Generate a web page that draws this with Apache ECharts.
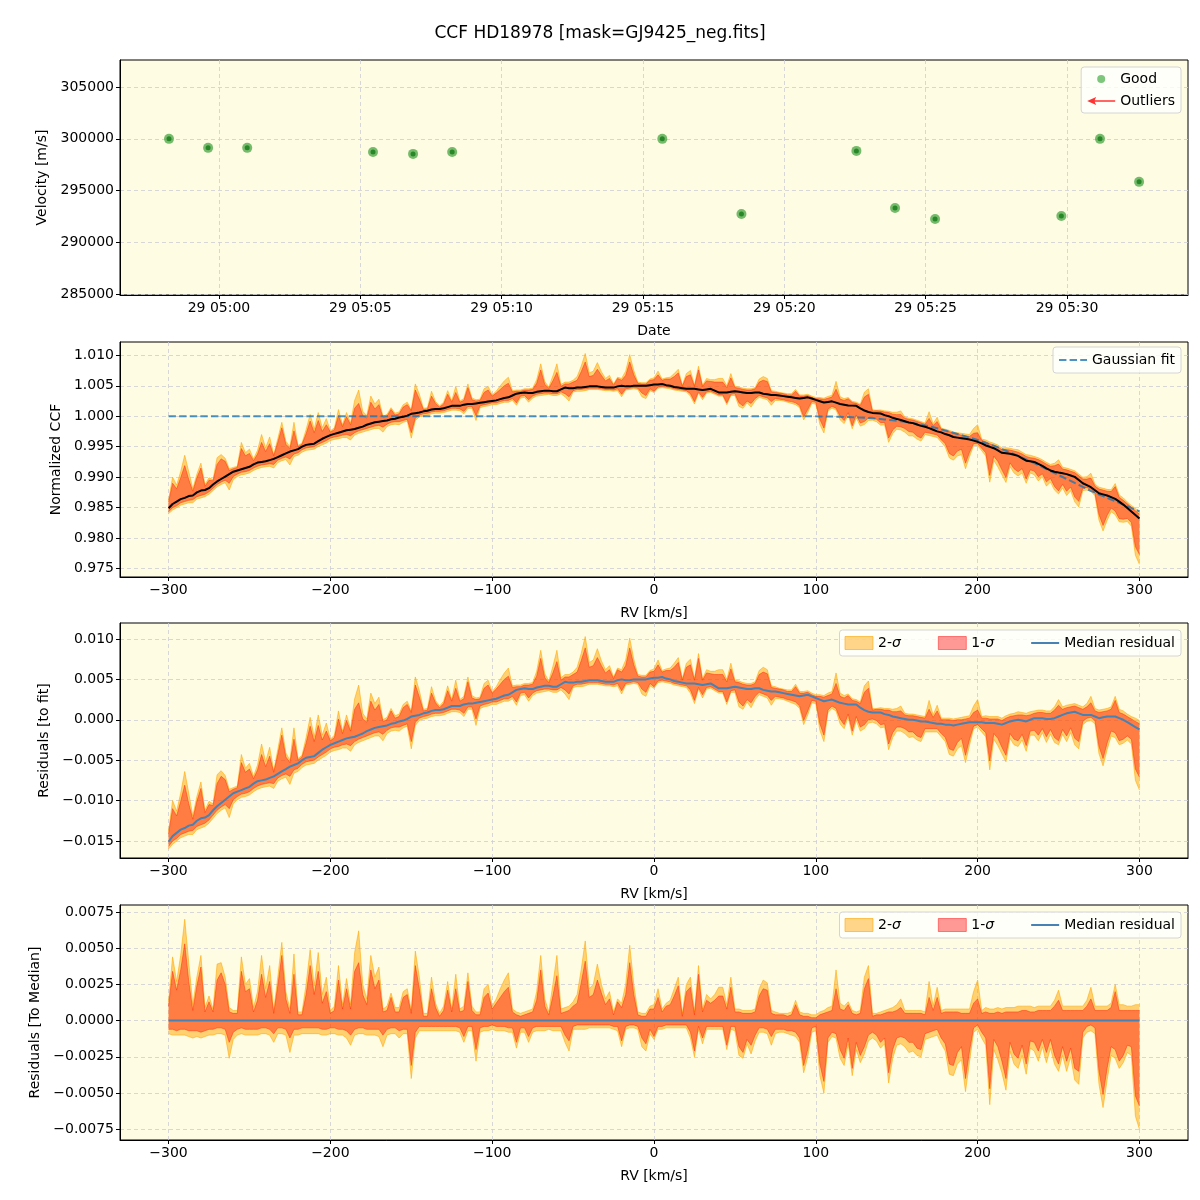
<!DOCTYPE html>
<html>
<head>
<meta charset="utf-8">
<script src="https://cdn.jsdelivr.net/npm/echarts@6/dist/echarts.min.js"></script>
<style>
html, body { margin: 0; background: #fff; }
#chart { width: 1200px; height: 1200px; }
</style>
</head>
<body>
<div id="chart"></div>
<script>
// top panel: observation times (day 29, UTC) and velocities
const obsTimes = ['04:58:14', '04:59:37', '05:01:00', '05:05:27', '05:06:52', '05:08:15', '05:15:41',
  '05:18:29', '05:22:33', '05:23:55', '05:25:20', '05:29:48', '05:31:10', '05:32:33']
const obsVel = [300000, 299130, 299130, 298740, 298550, 298740, 300000,
  292750, 298840, 293330, 292270, 292560, 300000, 295850]

// tick positions
const timeTicks = [0, 5, 10, 15, 20, 25, 30]  // minutes after 05:00
const velTicks = [285000, 290000, 295000, 300000, 305000]
const rvTicks = [-300, -200, -100, 0, 100, 200, 300]
const ccfTicks = [0.975, 0.98, 0.985, 0.99, 0.995, 1.0, 1.005, 1.01]
const resTicks = [-0.015, -0.01, -0.005, 0, 0.005, 0.01]
const medTicks = [-0.0075, -0.005, -0.0025, 0, 0.0025, 0.005, 0.0075]

// RV grid [km/s], 10 values per row
const rv = [-300, -297.5, -295, -292.5, -290, -287.5, -285, -282.5, -280, -277.5,
  -275, -272.5, -270, -267.5, -265, -262.5, -260, -257.5, -255, -252.5,
  -250, -247.5, -245, -242.5, -240, -237.5, -235, -232.5, -230, -227.5,
  -225, -222.5, -220, -217.5, -215, -212.5, -210, -207.5, -205, -202.5,
  -200, -197.5, -195, -192.5, -190, -187.5, -185, -182.5, -180, -177.5,
  -175, -172.5, -170, -167.5, -165, -162.5, -160, -157.5, -155, -152.5,
  -150, -147.5, -145, -142.5, -140, -137.5, -135, -132.5, -130, -127.5,
  -125, -122.5, -120, -117.5, -115, -112.5, -110, -107.5, -105, -102.5,
  -100, -97.5, -95, -92.5, -90, -87.5, -85, -82.5, -80, -77.5,
  -75, -72.5, -70, -67.5, -65, -62.5, -60, -57.5, -55, -52.5,
  -50, -47.5, -45, -42.5, -40, -37.5, -35, -32.5, -30, -27.5,
  -25, -22.5, -20, -17.5, -15, -12.5, -10, -7.5, -5, -2.5,
  0, 2.5, 5, 7.5, 10, 12.5, 15, 17.5, 20, 22.5,
  25, 27.5, 30, 32.5, 35, 37.5, 40, 42.5, 45, 47.5,
  50, 52.5, 55, 57.5, 60, 62.5, 65, 67.5, 70, 72.5,
  75, 77.5, 80, 82.5, 85, 87.5, 90, 92.5, 95, 97.5,
  100, 102.5, 105, 107.5, 110, 112.5, 115, 117.5, 120, 122.5,
  125, 127.5, 130, 132.5, 135, 137.5, 140, 142.5, 145, 147.5,
  150, 152.5, 155, 157.5, 160, 162.5, 165, 167.5, 170, 172.5,
  175, 177.5, 180, 182.5, 185, 187.5, 190, 192.5, 195, 197.5,
  200, 202.5, 205, 207.5, 210, 212.5, 215, 217.5, 220, 222.5,
  225, 227.5, 230, 232.5, 235, 237.5, 240, 242.5, 245, 247.5,
  250, 252.5, 255, 257.5, 260, 262.5, 265, 267.5, 270, 272.5,
  275, 277.5, 280, 282.5, 285, 287.5, 290, 292.5, 295, 297.5,
  300]

// depth of the gaussian fit below 1, units of 1e-4
const fitDepth = [0, 0, 0, 0, 0, 0, 0, 0, 0, 0,
  0, 0, 0, 0, 0, 0, 0, 0, 0, 0,
  0, 0, 0, 0, 0, 0, 0, 0, 0, 0,
  0, 0, 0, 0, 0, 0, 0, 0, 0, 0,
  0, 0, 0, 0, 0, 0, 0, 0, 0, 0,
  0, 0, 0, 0, 0, 0, 0, 0, 0, 0,
  0, 0, 0, 0, 0, 0, 0, 0, 0, 0,
  0, 0, 0, 0, 0, 0, 0, 0, 0, 0,
  0, 0, 0, 0, 0, 0, 0, 0, 0, 0,
  0, 0, 0, 0, 0, 0, 0, 0, 0, 0,
  0, 0, 0, 0, 0, 0, 0, 0, 0, 0,
  0, 0, 0, 0, 0, 0, 0, 0, 0, 0,
  0, 0, 0, 0, 0, 0, 0, 0, 0, 0,
  0, 0, 0, 0, 0, 0, 0, 0, 0, 0,
  0, 0, 0, 0, 0, 0, 0, 0, 0, 0,
  0, 0, 0, 0, 0, 0, 0, 0, 0, 0,
  0.2, 0.3, 0.4, 0.5, 0.6, 0.75, 0.9, 1.1, 1.3, 1.6,
  1.9, 2.2, 2.6, 3.0, 3.5, 4.0, 4.6, 5.2, 5.9, 6.6,
  7.4, 8.3, 9.2, 10.2, 11.3, 12.5, 13.8, 15.2, 16.6, 18.2,
  19.8, 21.5, 23.3, 25.2, 27.1, 29.1, 31.1, 33.1, 35.1, 37,
  39, 41.5, 44, 46.2, 48.5, 51.2, 54, 56.7, 59.5, 62.2,
  65, 68, 71, 74, 77, 80.2, 83.5, 86.7, 90, 93.2,
  96.5, 99.7, 103, 106.2, 109.5, 112.7, 116, 119.2, 122.5, 125.5,
  128.5, 131.2, 134, 136.7, 139.5, 142.2, 145, 147.7, 150.5, 153.2,
  156]

// median residual to the fit, units of 1e-4
const medRes = [-151, -144, -140, -136, -134, -131, -130, -125, -122, -121,
  -118, -112, -107, -103, -99, -95, -91, -89, -87, -85,
  -83, -79, -76, -75, -74, -72, -70, -67, -64, -61,
  -58, -56, -54, -50, -47, -46, -45, -41, -37, -34,
  -31, -29, -27, -25, -23, -22, -21, -19, -17, -14,
  -12, -10, -9, -8, -7, -5, -4, -2, -1, 1,
  4, 5, 6, 8, 9, 11, 12, 12, 13, 15,
  17, 17, 17, 19, 20, 20, 21, 22, 23, 24,
  25, 26, 28, 30, 31, 34, 37, 38, 39, 38,
  38, 40, 41, 42, 42, 41, 41, 44, 47, 46,
  46, 47, 47, 48, 49, 49, 49, 48, 47, 47,
  47, 49, 50, 49, 49, 50, 50, 50, 50, 51,
  52, 52, 53, 51, 50, 48, 47, 46, 45, 45,
  45, 44, 43, 44, 45, 42, 39, 39, 39, 40,
  41, 40, 39, 38, 38, 39, 39, 37, 36, 35,
  35, 34, 33, 32, 31, 30, 29, 30, 31, 29,
  27, 25, 23, 24, 25, 23, 21, 20, 19, 19,
  19, 15, 12, 10, 9, 9, 9, 7, 6, 4,
  3, 2, 1, 0, 0, -1, -2, -2, -3, -4,
  -5, -5, -6, -6, -7, -6, -5, -4, -3, -3,
  -3, -3, -4, -4, -4, -5, -6, -4, -2, -1,
  0, -1, -2, 0, 2, 2, 2, 1, 1, 2,
  4, 6, 8, 9, 10, 8, 6, 6, 6, 4,
  2, 3, 4, 4, 4, 2, 0, -3, -6, -9,
  -12]

// percentile spread around the median, units of 1e-4
const up2 = [13, 44, 27, 45, 70, 40, 11, 30, 45, 9,
  17, 8, 39, 40, 30, 9, 7, 7, 44, 25,
  29, 9, 20, 45, 22, 38, 7, 30, 54, 20,
  8, 46, 6, 6, 25, 49, 24, 47, 18, 30,
  7, 10, 38, 11, 29, 11, 47, 62, 25, 15,
  45, 30, 37, 8, 10, 19, 9, 9, 20, 22,
  7, 48, 30, 5, 5, 30, 12, 5, 10, 27,
  8, 32, 8, 10, 33, 10, 6, 6, 22, 25,
  10, 15, 22, 28, 33, 8, 6, 5, 6, 7,
  8, 20, 45, 15, 6, 25, 45, 8, 9, 10,
  13, 18, 35, 55, 22, 25, 39, 25, 15, 20,
  6, 15, 12, 25, 52, 25, 6, 5, 5, 10,
  11, 22, 8, 12, 14, 22, 30, 5, 25, 30,
  6, 38, 8, 18, 15, 18, 23, 23, 11, 30,
  8, 8, 7, 7, 7, 8, 22, 28, 26, 7,
  6, 5, 5, 5, 6, 14, 6, 5, 5, 4,
  4, 6, 7, 9, 10, 35, 12, 10, 13, 7,
  6, 7, 30, 38, 5, 5, 6, 7, 8, 9,
  11, 15, 7, 7, 7, 7, 7, 6, 27, 10,
  23, 7, 8, 8, 8, 8, 8, 8, 8, 20,
  28, 7, 9, 8, 8, 9, 8, 9, 9, 9,
  10, 10, 10, 10, 9, 10, 10, 10, 10, 14,
  21, 10, 10, 10, 10, 10, 10, 14, 23, 10,
  10, 10, 10, 12, 25, 11, 11, 10, 10, 11,
  11]
const up1 = [10, 34, 21, 35, 53, 27, 7, 24, 37, 6,
  13, 6, 28, 33, 25, 6, 5, 5, 34, 20,
  22, 6, 14, 32, 16, 27, 5, 24, 45, 15,
  5, 32, 4, 4, 18, 38, 18, 34, 12, 20,
  5, 7, 28, 8, 22, 8, 34, 40, 18, 11,
  35, 22, 28, 6, 7, 16, 6, 6, 16, 18,
  5, 38, 22, 3, 3, 22, 9, 3, 7, 21,
  6, 22, 6, 7, 27, 7, 4, 4, 16, 19,
  8, 12, 16, 20, 23, 6, 4, 3, 4, 5,
  6, 14, 35, 10, 4, 17, 31, 5, 6, 7,
  10, 12, 26, 41, 16, 18, 28, 19, 11, 15,
  4, 13, 9, 18, 40, 18, 4, 3, 3, 8,
  8, 16, 6, 10, 11, 17, 24, 3, 20, 23,
  4, 32, 6, 14, 12, 14, 17, 17, 8, 23,
  6, 6, 5, 5, 5, 6, 17, 22, 21, 5,
  4, 4, 4, 3, 4, 11, 4, 3, 3, 2,
  2, 4, 5, 6, 7, 22, 8, 7, 11, 5,
  4, 5, 22, 29, 3, 4, 4, 5, 6, 6,
  7, 9, 5, 5, 5, 5, 5, 4, 16, 7,
  16, 5, 6, 6, 6, 6, 5, 5, 5, 12,
  15, 5, 6, 5, 5, 6, 5, 6, 6, 6,
  6, 7, 7, 6, 6, 7, 7, 7, 7, 10,
  14, 7, 7, 7, 7, 7, 7, 10, 15, 7,
  7, 7, 7, 9, 20, 7, 7, 7, 7, 7,
  7]
const lo1 = [-6, -6, -7, -6, -6, -7, -7, -7, -8, -7,
  -6, -6, -5, -5, -6, -15, -8, -6, -5, -6,
  -6, -6, -6, -5, -5, -6, -9, -5, -5, -6,
  -12, -6, -6, -5, -5, -5, -5, -5, -6, -6,
  -5, -5, -6, -6, -7, -10, -6, -5, -5, -6,
  -6, -6, -6, -10, -6, -5, -5, -7, -6, -6,
  -31, -8, -4, -4, -4, -4, -4, -4, -4, -4,
  -4, -4, -5, -11, -4, -4, -20, -5, -4, -4,
  -3, -4, -4, -4, -5, -5, -15, -5, -5, -11,
  -5, -4, -4, -4, -4, -4, -4, -4, -10, -14,
  -4, -3, -3, -3, -3, -3, -3, -3, -3, -3,
  -4, -4, -14, -4, -3, -3, -4, -12, -16, -6,
  -11, -4, -4, -3, -3, -3, -3, -3, -3, -8,
  -21, -4, -12, -4, -4, -4, -4, -4, -17, -4,
  -4, -18, -22, -13, -17, -10, -5, -5, -6, -11,
  -6, -6, -6, -7, -7, -8, -12, -31, -20, -5,
  -4, -30, -42, -12, -8, -9, -20, -26, -12, -33,
  -15, -24, -18, -10, -8, -10, -15, -12, -36, -20,
  -12, -11, -12, -15, -15, -19, -20, -9, -8, -7,
  -6, -12, -16, -30, -31, -22, -18, -40, -21, -5,
  -3, -8, -12, -47, -13, -18, -28, -40, -15, -23,
  -26, -17, -30, -14, -15, -21, -13, -22, -13, -24,
  -30, -18, -28, -19, -33, -35, -8, -4, -3, -5,
  -35, -51, -33, -18, -20, -28, -24, -17, -18, -52,
  -59]
const lo2 = [-9, -10, -10, -10, -10, -11, -12, -11, -12, -11,
  -10, -10, -9, -9, -10, -26, -13, -10, -9, -10,
  -10, -10, -10, -9, -9, -10, -15, -9, -9, -10,
  -22, -10, -10, -9, -9, -9, -9, -9, -10, -10,
  -9, -9, -10, -10, -12, -17, -10, -9, -9, -10,
  -10, -10, -11, -18, -10, -9, -9, -12, -9, -9,
  -40, -12, -7, -7, -7, -7, -7, -7, -7, -7,
  -7, -7, -8, -15, -7, -7, -28, -8, -7, -7,
  -6, -7, -7, -7, -8, -8, -19, -8, -8, -15,
  -8, -7, -7, -7, -6, -7, -7, -7, -15, -21,
  -6, -6, -6, -6, -5, -5, -5, -5, -5, -5,
  -6, -7, -18, -6, -5, -5, -6, -18, -21, -9,
  -13, -6, -6, -5, -5, -5, -5, -5, -5, -12,
  -25, -6, -16, -6, -6, -6, -6, -6, -20, -6,
  -7, -24, -26, -16, -23, -14, -8, -8, -9, -17,
  -9, -8, -8, -9, -10, -11, -15, -36, -25, -8,
  -7, -38, -50, -15, -11, -12, -26, -31, -16, -38,
  -20, -29, -23, -14, -12, -14, -19, -16, -43, -26,
  -17, -16, -18, -22, -21, -24, -25, -13, -12, -11,
  -10, -16, -21, -37, -38, -30, -27, -49, -28, -8,
  -6, -12, -17, -58, -20, -27, -36, -48, -21, -30,
  -33, -24, -37, -19, -21, -28, -18, -29, -19, -30,
  -35, -24, -35, -25, -41, -44, -12, -8, -7, -9,
  -44, -60, -41, -24, -26, -33, -29, -22, -24, -66,
  -75]

const SC = 1e-4
const FONT = 'DejaVu Sans'
const BG = '#fefce3'
const ORANGE = 'rgba(255,165,0,0.5)'
const RED = 'rgba(255,0,0,0.4)'
const BLUE = '#4682b4'
const FITBLUE = 'rgba(31,119,180,0.8)'

const fitCCF = fitDepth.map(d => 1 - d * SC)
const ccfMed = fitCCF.map((f, i) => f + medRes[i] * SC)
const resMed = medRes.map(v => v * SC)
const zeroMed = rv.map(() => 0)

function toMin(t) {
  const p = t.split(':').map(Number)
  return p[0] * 60 + p[1] + p[2] / 60 - 300
}
const pad = n => (n < 10 ? '0' : '') + n

function onStep(step, fn) {
  return v => {
    const k = v / step
    if (Math.abs(k - Math.round(k)) > 1e-6) return ''
    return fn(Math.round(k) * step)
  }
}
const signed = d => v => {
  if (Math.abs(v) < 1e-12) v = 0
  return (v < 0 ? '\u2212' : '') + Math.abs(v).toFixed(d)
}

const tops = [60, 342, 623, 905]
const grid = tops.map(t => ({
  left: 120, top: t, width: 1068, height: 235,
  show: true, backgroundColor: BG, borderColor: '#000', borderWidth: 1
}))

function axis(idx, ticks, extra) {
  return Object.assign({
    gridIndex: idx,
    type: 'value',
    nameLocation: 'middle',
    nameTextStyle: { color: '#000', fontSize: 14, fontFamily: FONT },
    axisLine: { show: true, onZero: false, lineStyle: { color: '#000', width: 1 } },
    axisTick: { show: true, length: 4, customValues: ticks, lineStyle: { color: '#000', width: 1 } },
    splitLine: { show: true, lineStyle: { color: '#cdcdd4', width: 0.8, type: [4, 3] } }
  }, extra)
}
const label = (step, fn) => ({ color: '#000', fontSize: 14, fontFamily: FONT, margin: 6, formatter: onStep(step, fn) })

const rvAxis = idx => axis(idx, rvTicks, {
  min: -330, max: 330, minInterval: 100, maxInterval: 100,
  name: 'RV [km/s]', nameGap: 29,
  axisLabel: label(100, signed(0))
})

const xAxis = [
  axis(0, timeTicks, {
    min: -3.5, max: 34.28, minInterval: 5, maxInterval: 5,
    name: 'Date', nameGap: 29,
    axisLabel: label(5, m => { const tot = 300 + m; return '29 ' + pad(Math.floor(tot / 60)) + ':' + pad(tot % 60) })
  }),
  rvAxis(1), rvAxis(2), rvAxis(3)
]

const yAxis = [
  axis(0, velTicks, { min: 284935, max: 307608, minInterval: 5000, maxInterval: 5000, name: 'Velocity [m/s]', nameGap: 67,
    axisLabel: label(5000, v => String(v)) }),
  axis(1, ccfTicks, { min: 0.97362, max: 1.01218, minInterval: 0.005, maxInterval: 0.005, name: 'Normalized CCF', nameGap: 56,
    axisLabel: label(0.005, signed(3)) }),
  axis(2, resTicks, { min: -0.01711, max: 0.01198, minInterval: 0.005, maxInterval: 0.005, name: 'Residuals [to fit]', nameGap: 66,
    axisLabel: label(0.005, signed(3)) }),
  axis(3, medTicks, { min: -0.00824, max: 0.00798, minInterval: 0.0025, maxInterval: 0.0025, name: 'Residuals [To Median]', nameGap: 74,
    axisLabel: label(0.0025, signed(4)) })
]

// filled band between center+lo and center+hi, drawn as one polygon through the axis scales
function band(idx, center, lo, hi, fill, edge, name) {
  const ylo = rv.map((x, i) => center[i] + lo[i] * SC)
  const yhi = rv.map((x, i) => center[i] + hi[i] * SC)
  return {
    type: 'custom', name: name, xAxisIndex: idx, yAxisIndex: idx, silent: true,
    itemStyle: { color: fill },
    encode: { x: 0, y: [1, 2] },
    data: rv.map((x, i) => [x, ylo[i], yhi[i]]),
    renderItem(params, api) {
      if (params.dataIndex !== 0) return null
      const upper = rv.map((x, i) => api.coord([x, yhi[i]]))
      const lower = rv.map((x, i) => api.coord([x, ylo[i]]))
      return {
        type: 'group',
        children: [
          { type: 'polygon', shape: { points: upper.concat(lower.slice().reverse()) }, style: { fill: fill, stroke: null } },
          { type: 'polyline', shape: { points: upper }, style: { fill: null, stroke: edge, lineWidth: 1 } },
          { type: 'polyline', shape: { points: lower }, style: { fill: null, stroke: edge, lineWidth: 1 } }
        ]
      }
    }
  }
}

const lineOf = (idx, ys, name, style) => ({
  type: 'line', name: name, xAxisIndex: idx, yAxisIndex: idx, symbol: 'none', silent: true,
  lineStyle: style, itemStyle: { color: style.color }, z: 5,
  data: rv.map((x, i) => [x, ys[i]])
})

const times = obsTimes.map(toMin)
const series = [
  {
    type: 'scatter', name: 'Good', xAxisIndex: 0, yAxisIndex: 0, symbolSize: 10,
    itemStyle: { color: 'rgba(40,150,40,0.8)' },
    data: times.map((t, i) => [t, obsVel[i]])
  },
  {
    type: 'scatter', xAxisIndex: 0, yAxisIndex: 0, symbolSize: 5, silent: true,
    itemStyle: { color: '#157a15' },
    data: times.map((t, i) => [t, obsVel[i]])
  },
  { type: 'scatter', name: 'Outliers', xAxisIndex: 0, yAxisIndex: 0, itemStyle: { color: '#ff0000' }, data: [] },

  band(1, ccfMed, lo2, up2, ORANGE, 'rgba(255,165,0,0.55)', '2-σ'),
  band(1, ccfMed, lo1, up1, RED, 'rgba(255,30,0,0.45)', '1-σ'),
  lineOf(1, fitCCF, 'Gaussian fit', { color: FITBLUE, width: 2, type: [7.4, 3.2] }),
  lineOf(1, ccfMed, 'Median CCF', { color: '#000', width: 2 }),

  band(2, resMed, lo2, up2, ORANGE, 'rgba(255,165,0,0.55)', '2-σ'),
  band(2, resMed, lo1, up1, RED, 'rgba(255,30,0,0.45)', '1-σ'),
  lineOf(2, resMed, 'Median residual', { color: BLUE, width: 2 }),

  band(3, zeroMed, lo2, up2, ORANGE, 'rgba(255,165,0,0.55)', '2-σ'),
  band(3, zeroMed, lo1, up1, RED, 'rgba(255,30,0,0.45)', '1-σ'),
  lineOf(3, zeroMed, 'Median residual', { color: BLUE, width: 2 })
]

const legendBox = {
  backgroundColor: 'rgba(255,255,255,0.8)', borderColor: '#d4d4d4', borderWidth: 1, borderRadius: 3,
  selectedMode: false,
  textStyle: { color: '#000', fontSize: 14, fontFamily: FONT, rich: { s: { fontStyle: 'italic', fontSize: 14, fontFamily: FONT, color: '#000' } } }
}
const arrowIcon = 'path://M0,4 L9,0 L7.5,3.2 L28,3.2 L28,4.8 L7.5,4.8 L9,8 Z'
const lineIcon = 'path://M0,0 H28 V2 H0 Z'
const dashIcon = 'path://M0,0 H7.4 V2 H0 Z M10.6,0 H18 V2 H10.6 Z M21.2,0 H28 V2 H21.2 Z'
const sigmaFmt = n => n.replace('σ', '{s|σ}')
const sigmaLegend = top => Object.assign({}, legendBox, {
  right: 19, top: top, orient: 'horizontal', itemWidth: 28, itemHeight: 13, itemGap: 37,
  padding: [6, 6, 6, 5], formatter: sigmaFmt,
  data: [
    { name: '2-σ', icon: 'rect', itemStyle: { color: 'rgba(255,165,0,0.45)', borderColor: 'rgba(255,165,0,0.6)', borderWidth: 1 } },
    { name: '1-σ', icon: 'rect', itemStyle: { color: 'rgba(255,0,0,0.4)', borderColor: 'rgba(255,0,0,0.45)', borderWidth: 1 } },
    { name: 'Median residual', icon: lineIcon, itemStyle: { color: BLUE, borderWidth: 0 } }
  ]
})

const option = {
  animation: false,
  backgroundColor: '#fff',
  title: {
    text: 'CCF HD18978 [mask=GJ9425_neg.fits]', left: 'center', top: 25, padding: 0,
    textStyle: { color: '#000', fontSize: 17, fontWeight: 'normal', fontFamily: FONT }
  },
  grid, xAxis, yAxis, series,
  legend: [
    Object.assign({}, legendBox, {
      right: 19, top: 67, orient: 'vertical', itemWidth: 28, itemHeight: 8, itemGap: 8,
      padding: [5, 6, 5, 6],
      data: [
        { name: 'Good', icon: 'circle', itemStyle: { color: '#5cb85c' } },
        { name: 'Outliers', icon: arrowIcon, itemStyle: { color: '#ff0000' } }
      ]
    }),
    Object.assign({}, legendBox, {
      right: 19, top: 347, itemWidth: 28, itemHeight: 8, padding: [6, 6, 6, 6],
      data: [{ name: 'Gaussian fit', icon: dashIcon, itemStyle: { color: FITBLUE, borderWidth: 0 } }]
    }),
    sigmaLegend(630),
    sigmaLegend(912)
  ]
}

const chart = echarts.init(document.getElementById('chart'))
chart.setOption(option)
</script>
</body>
</html>
